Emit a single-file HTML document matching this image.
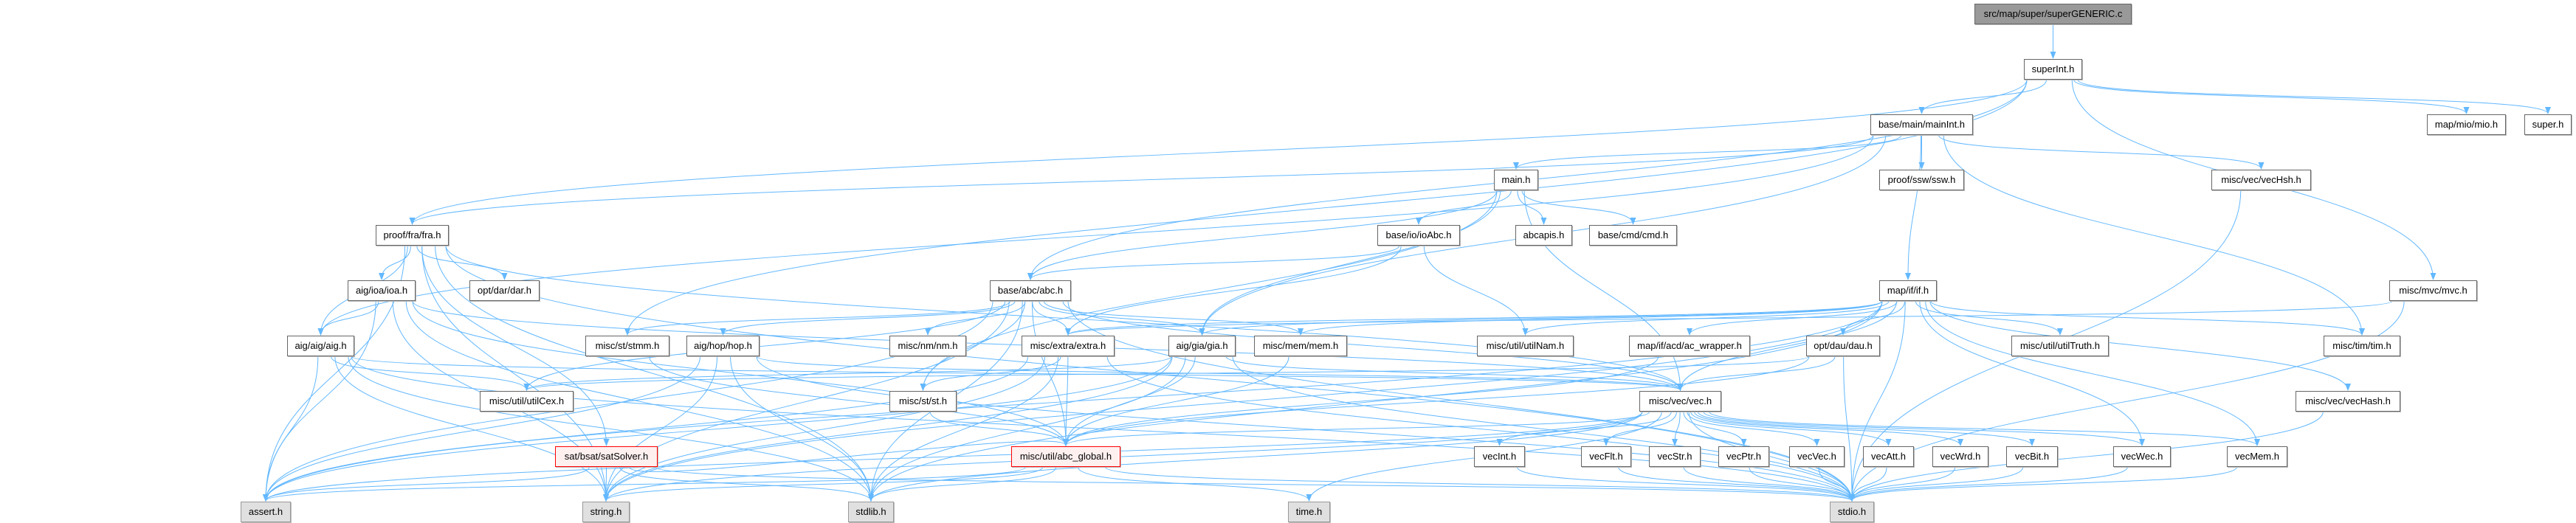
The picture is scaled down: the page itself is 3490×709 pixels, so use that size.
<!DOCTYPE html>
<html><head><meta charset="utf-8">
<style>
html,body{margin:0;padding:0;background:#fff;}
#wrap{position:relative;width:3490px;height:709px;overflow:hidden;}
svg{position:absolute;left:0;top:0;}
.n{position:absolute;height:26px;border:1px solid #666;background:#fff;box-sizing:content-box;
font-family:"Liberation Sans",sans-serif;font-size:13px;line-height:26px;text-align:center;color:#000;white-space:nowrap;box-shadow:1px 1px 0 #bbb;}
.g{background:#e0e0e0;border-color:#999;}
.r{background:#fff0f0;border-color:#f00;}
.root{background:#999;border-color:#666;}
</style></head><body>
<div id="wrap">
<svg id="s" width="3490" height="709"><defs><marker id="a" markerWidth="10" markerHeight="8" refX="9" refY="4" orient="auto" markerUnits="userSpaceOnUse"><path d="M0,0 L10,4 L0,8 z" fill="#63b8ff"/></marker></defs><g id="e" fill="none" stroke="#63b8ff" stroke-width="1"></g></svg>
<div class="n root" id="root" style="left:2675px;top:5px;width:211px">src/map/super/superGENERIC.c</div>
<div class="n" id="superInt" style="left:2742px;top:80px;width:77px">superInt.h</div>
<div class="n" id="mainInt" style="left:2534px;top:155px;width:137px">base/main/mainInt.h</div>
<div class="n" id="mio" style="left:3288px;top:155px;width:105px">map/mio/mio.h</div>
<div class="n" id="super" style="left:3420px;top:155px;width:62px">super.h</div>
<div class="n" id="main" style="left:2024px;top:230px;width:58px">main.h</div>
<div class="n" id="ssw" style="left:2546px;top:230px;width:113px">proof/ssw/ssw.h</div>
<div class="n" id="vecHsh" style="left:2996px;top:230px;width:133px">misc/vec/vecHsh.h</div>
<div class="n" id="fra" style="left:509px;top:305px;width:97px">proof/fra/fra.h</div>
<div class="n" id="ioAbc" style="left:1866px;top:305px;width:110px">base/io/ioAbc.h</div>
<div class="n" id="abcapis" style="left:2053px;top:305px;width:75px">abcapis.h</div>
<div class="n" id="cmd" style="left:2153px;top:305px;width:117px">base/cmd/cmd.h</div>
<div class="n" id="ioa" style="left:471px;top:380px;width:90px">aig/ioa/ioa.h</div>
<div class="n" id="dar" style="left:636px;top:380px;width:93px">opt/dar/dar.h</div>
<div class="n" id="abc" style="left:1341px;top:380px;width:108px">base/abc/abc.h</div>
<div class="n" id="if" style="left:2546px;top:380px;width:76px">map/if/if.h</div>
<div class="n" id="mvc" style="left:3237px;top:380px;width:117px">misc/mvc/mvc.h</div>
<div class="n" id="aig" style="left:389px;top:455px;width:89px">aig/aig/aig.h</div>
<div class="n" id="stmm" style="left:793px;top:455px;width:112px">misc/st/stmm.h</div>
<div class="n" id="hop" style="left:930px;top:455px;width:97px">aig/hop/hop.h</div>
<div class="n" id="nm" style="left:1205px;top:455px;width:102px">misc/nm/nm.h</div>
<div class="n" id="extra" style="left:1384px;top:455px;width:124px">misc/extra/extra.h</div>
<div class="n" id="gia" style="left:1583px;top:455px;width:89px">aig/gia/gia.h</div>
<div class="n" id="mem" style="left:1699px;top:455px;width:124px">misc/mem/mem.h</div>
<div class="n" id="utilNam" style="left:2001px;top:455px;width:129px">misc/util/utilNam.h</div>
<div class="n" id="acw" style="left:2207px;top:455px;width:162px">map/if/acd/ac_wrapper.h</div>
<div class="n" id="dau" style="left:2447px;top:455px;width:98px">opt/dau/dau.h</div>
<div class="n" id="utilTruth" style="left:2725px;top:455px;width:130px">misc/util/utilTruth.h</div>
<div class="n" id="tim" style="left:3148px;top:455px;width:102px">misc/tim/tim.h</div>
<div class="n" id="utilCex" style="left:650px;top:530px;width:125px">misc/util/utilCex.h</div>
<div class="n" id="st" style="left:1205px;top:530px;width:89px">misc/st/st.h</div>
<div class="n" id="vec" style="left:2221px;top:530px;width:109px">misc/vec/vec.h</div>
<div class="n" id="vecHash" style="left:3110px;top:530px;width:140px">misc/vec/vecHash.h</div>
<div class="n r" id="sat" style="left:752px;top:605px;width:137px">sat/bsat/satSolver.h</div>
<div class="n r" id="glob" style="left:1370px;top:605px;width:146px">misc/util/abc_global.h</div>
<div class="n" id="vecInt" style="left:1997px;top:605px;width:67px">vecInt.h</div>
<div class="n" id="vecFlt" style="left:2142px;top:605px;width:66px">vecFlt.h</div>
<div class="n" id="vecStr" style="left:2234px;top:605px;width:68px">vecStr.h</div>
<div class="n" id="vecPtr" style="left:2328px;top:605px;width:67px">vecPtr.h</div>
<div class="n" id="vecVec" style="left:2424px;top:605px;width:73px">vecVec.h</div>
<div class="n" id="vecAtt" style="left:2524px;top:605px;width:67px">vecAtt.h</div>
<div class="n" id="vecWrd" style="left:2618px;top:605px;width:74px">vecWrd.h</div>
<div class="n" id="vecBit" style="left:2718px;top:605px;width:68px">vecBit.h</div>
<div class="n" id="vecWec" style="left:2863px;top:605px;width:76px">vecWec.h</div>
<div class="n" id="vecMem" style="left:3017px;top:605px;width:80px">vecMem.h</div>
<div class="n g" id="assert" style="left:326px;top:680px;width:66px">assert.h</div>
<div class="n g" id="string" style="left:789px;top:680px;width:62px">string.h</div>
<div class="n g" id="stdlib" style="left:1149px;top:680px;width:60px">stdlib.h</div>
<div class="n g" id="time" style="left:1745px;top:680px;width:55px">time.h</div>
<div class="n g" id="stdio" style="left:2479px;top:680px;width:58px">stdio.h</div>
</div>
<script>
var E={
root:"superInt",
superInt:"mainInt mio super mvc abc stmm fra",
mainInt:"main ssw vecHsh if tim fra aig gia",
main:"ioAbc abcapis cmd abc gia st vec",
ioAbc:"abc utilNam extra",
fra:"ioa dar aig assert string stdlib stdio sat vec",
ioa:"aig assert string stdlib vec glob",
aig:"utilCex assert string stdlib stdio vec",
hop:"assert string stdlib stdio vec",
stmm:"glob",
abc:"nm extra gia mem st stmm hop utilCex vec assert string stdlib stdio glob",
extra:"st glob assert string stdlib stdio",
gia:"vec utilCex assert string stdlib stdio glob",
mem:"glob",st:"glob",
sat:"assert string stdlib stdio glob",
glob:"time stdio assert string stdlib",
vec:"vecInt vecFlt vecStr vecPtr vecVec vecAtt vecWrd vecBit vecWec vecMem stdio assert string stdlib time glob",
vecInt:"stdio",vecFlt:"stdio",vecStr:"stdio",vecPtr:"stdio",vecVec:"stdio",vecAtt:"stdio",vecWrd:"stdio",vecBit:"stdio",vecWec:"stdio",vecMem:"stdio",
if:"dau utilTruth tim vecHash vecWec vecMem vec mem utilNam acw extra gia stdio stdlib string assert",
dau:"vec glob stdio utilCex",
mvc:"extra stdio",
vecHsh:"stdio",vecHash:"stdio",acw:"glob"
};
function box(id){var d=document.getElementById(id);return {x:d.offsetLeft,y:d.offsetTop,w:d.offsetWidth,h:d.offsetHeight};}
var g=document.getElementById('e'),s="";
for(var k in E){var a=box(k);E[k].split(" ").forEach(function(t){var b=box(t);
var x1=a.x+a.w/2,y1=a.y+a.h,x2=b.x+b.w/2,y2=b.y;
var dx=x2-x1;x1+=Math.max(-a.w/2+4,Math.min(a.w/2-4,dx*0.05));
var dy=y2-y1,c=Math.max(30,dy*0.5);
s+='<path marker-end="url(#a)" d="M'+x1+','+y1+' C'+x1+','+(y1+c)+' '+x2+','+(y2-c)+' '+x2+','+(y2-1)+'"/>';});}
g.innerHTML=s;
</script>
</body></html>
